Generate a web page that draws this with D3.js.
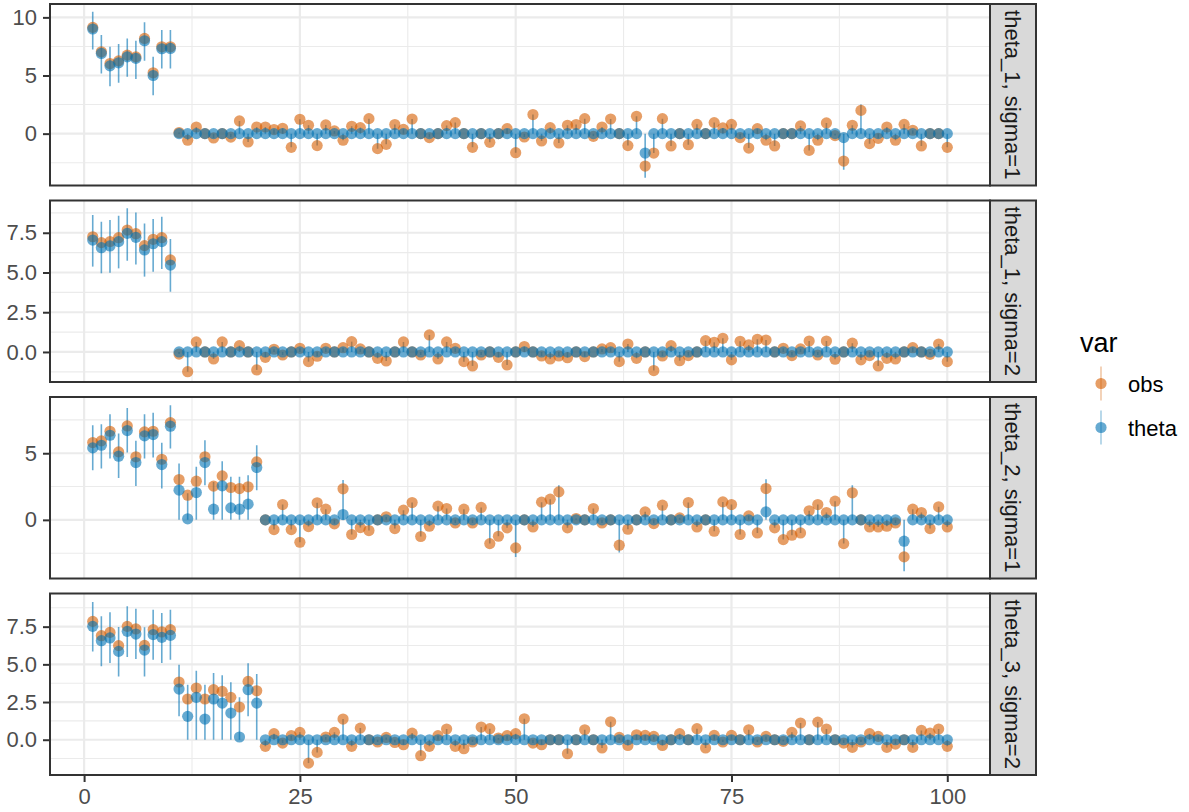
<!DOCTYPE html>
<html>
<head>
<meta charset="utf-8">
<script src="https://cdn.jsdelivr.net/npm/d3@7"></script>
<style>
  html, body { margin: 0; padding: 0; background: #fff; }
  svg { display: block; font-family: "Liberation Sans", Arial, sans-serif; }
</style>
</head>
<body>
<svg id="chart" width="1189" height="812"></svg>
<script>
// ---- data ----
const xTicks = [0, 25, 50, 75, 100];
const xMinor = [12.5, 37.5, 62.5, 87.5];
const series = ["obs", "theta"];
const stripLabels = ["theta_1, sigma=1", "theta_1, sigma=2", "theta_2, sigma=1", "theta_3, sigma=2"];

// panel 1: theta_1, sigma=1
const obs1 = [9.14, 7.04, 6.03, 6.26, 6.75, 6.6, 8.19, 5.23, 7.47, 7.47,
  0.1, -0.57, 0.57, 0, -0.37, 0, -0.3, 1.09, -0.72, 0.57,
  0.57, 0.35, 0.46, -1.18, 1.24, 0.72, -1.03, 0.75, 0.23, -0.57,
  0.63, 0.52, 1.29, -1.29, -0.92, 0.78, 0.37, 1.26, 0, -0.34,
  0, 0.69, 0.95, 0, -1.18, 0, -0.75, 0, 0.43, -1.64,
  -0.29, 1.64, -0.63, 0.52, -0.8, 0.72, 0.78, 1.29, -0.23, 0.57,
  1.26, 0, -1.03, 1.49, -2.79, -1.67, 1.29, -1.06, 0, -0.95,
  0.8, 0, 0.95, 0.49, 0.8, -0.34, -1.24, 0.43, -0.57, -1.06,
  0, 0, 0.66, -1.44, -0.57, 0.92, -0.17, -2.36, 0.72, 2.0,
  -0.86, -0.4, 0.57, -0.57, 0.8, 0.29, -1.06, 0, 0, -1.18];
const thetaHead1 = [9.0, 6.9, 5.83, 6.09, 6.6, 6.47, 7.99, 5.0, 7.3, 7.33];
const thetaSpikes1 = [[65, -1.67], [88, -0.34]];
const barLo1 = [7.24, 5.17, 4.08, 4.37, 4.89, 4.71, 6.26, 3.3, 5.6, 5.6];
const barHi1 = [10.49, 8.48, 7.47, 7.7, 8.19, 7.99, 9.57, 6.61, 8.91, 8.91];
const tails1 = [[65, -3.8], [88, -3.1], [90, 2.5]];

// panel 2: theta_1, sigma=2
const obs2 = [7.25, 6.88, 6.94, 7.19, 7.67, 7.44, 6.69, 7.09, 7.19, 5.79,
  -0.13, -1.24, 0.63, 0, -0.44, 0.63, 0, 0.4, 0, -1.13,
  -0.34, 0.17, -0.19, 0, 0.23, -0.61, -0.27, 0.23, 0, 0.27,
  0.65, 0.19, 0, -0.4, -0.57, 0, 0.63, 0, -0.19, 1.07,
  -0.44, 0.63, 0.23, -0.61, -0.88, -0.19, 0, -0.34, -0.82, 0,
  0.34, 0, -0.25, -0.44, -0.25, -0.36, 0, -0.29, 0, 0.19,
  0.27, -0.61, 0.5, -0.4, 0, -1.17, -0.25, 0.4, -0.55, -0.23,
  0, 0.71, 0.61, 0.86, -0.5, 0.67, 0.44, 0.8, 0.75, 0,
  0.23, -0.23, 0.19, 0.69, -0.19, 0.69, -0.46, 0, 0.55, -0.5,
  -0.23, -0.88, -0.4, -0.44, 0, 0.27, 0, -0.15, 0.5, -0.61];
const thetaHead2 = [7.04, 6.56, 6.67, 6.94, 7.46, 7.21, 6.42, 6.81, 6.94, 5.47];
const thetaSpikes2 = [];
const barLo2 = [5.37, 4.95, 4.99, 5.26, 5.74, 5.51, 4.74, 5.05, 5.22, 3.79];
const barHi2 = [8.62, 8.2, 8.3, 8.57, 9.04, 8.78, 8.09, 8.36, 8.51, 7.11];
const tails2 = [];

// panel 3: theta_2, sigma=1
const obs3 = [5.8, 5.93, 6.65, 5.1, 7.05, 4.73, 6.6, 6.65, 4.55, 7.3,
  3.03, 1.85, 2.9, 4.73, 2.53, 3.3, 2.43, 2.35, 2.48, 4.35,
  0, -0.73, 1.15, -0.73, -1.68, -0.5, 1.28, 0.8, -0.3, 2.33,
  -1.1, -0.58, -0.8, 0, 0.23, -0.65, 0.73, 1.3, -1.25, -0.48,
  1.03, 0.85, -0.23, 0.8, -0.23, 0.93, -1.78, -1.23, -0.6, -2.1,
  0, -0.53, 1.33, 1.55, 2.1, -0.6, 0.1, 0, 0.85, -0.23,
  0, -1.9, -0.7, 0, 0.6, -0.28, 1.1, 0, 0.15, 1.3,
  -0.53, 0, -0.85, 1.35, 1.15, -1.1, 0.3, -0.98, 2.35, -0.6,
  -1.48, -1.15, -0.98, 0.68, 1.15, 0.55, 1.4, -1.78, 2.03, 0,
  -0.53, -0.53, -0.48, -0.23, -2.78, 0.8, 0.55, -0.65, 0.98, -0.53];
const thetaHead3 = [5.4, 5.6, 6.35, 4.78, 6.7, 4.3, 6.3, 6.4, 4.15, 7.03,
  2.23, 0.08, 2.05, 4.3, 0.8, 2.55, 0.9, 0.8, 1.18, 3.93];
const thetaSpikes3 = [[30, 0.4], [79, 0.6], [95, -1.6]];
const barLo3 = [3.73, 3.85, 4.6, 3.15, 5.05, 2.55, 4.6, 4.68, 2.35, 5.35,
  0, 0, 0, 2.6, 0, 0, 0, 0, 0, 2.23];
const barHi3 = [7.1, 7.18, 7.93, 6.48, 8.4, 5.93, 7.93, 8.03, 5.78, 8.6,
  4.23, 2.0, 3.98, 5.98, 2.85, 4.4, 3.23, 3.23, 3.35, 5.6];
const tails3 = [[30, 3.0], [50, -2.78], [55, 2.6], [62, -2.45], [79, 3.05], [89, 2.6], [95, -3.85]];

// panel 4: theta_3, sigma=2
const obs4 = [7.85, 6.9, 7.12, 6.24, 7.52, 7.35, 6.26, 7.3, 7.15, 7.3,
  3.83, 2.7, 3.43, 2.7, 3.32, 3.21, 2.81, 2.17, 3.87, 3.25,
  -0.44, 0.4, -0.22, 0.27, 0.49, -1.55, -0.84, 0.18, 0.49, 1.37,
  -0.44, 0.77, 0, -0.15, 0.15, -0.18, -0.33, 0.44, -1.06, -0.44,
  0.27, 0.71, -0.44, -0.6, -0.15, 0.84, 0.73, 0.11, 0.27, 0.4,
  1.39, -0.22, -0.33, 0, 0, -0.93, 0, 0.66, 0, -0.55,
  1.19, 0.15, -0.38, 0.33, 0.29, 0.22, -0.38, 0, 0.4, 0,
  0.73, -0.55, 0.29, -0.15, 0.29, 0, 0.66, -0.15, 0.22, 0,
  -0.11, 0.49, 1.11, 0, 1.17, 0.71, 0, -0.22, -0.51, -0.15,
  0.4, 0.22, -0.51, -0.29, 0, -0.51, 0.62, 0.44, 0.71, -0.44];
const thetaHead4 = [7.52, 6.57, 6.75, 5.86, 7.19, 7.01, 5.95, 6.97, 6.79, 6.92,
  3.36, 1.55, 2.81, 1.37, 2.7, 2.43, 1.77, 0.18, 3.32, 2.43];
const thetaSpikes4 = [];
const barLo4 = [5.86, 4.87, 5.09, 4.2, 5.49, 5.35, 4.2, 5.31, 5.09, 5.31,
  1.55, 0, 0, 0, 0, 0, 0, 0, 1.55, 0];
const barHi4 = [9.14, 8.19, 8.45, 7.48, 8.85, 8.69, 7.46, 8.63, 8.41, 8.63,
  4.98, 3.65, 4.58, 3.65, 4.42, 4.27, 3.81, 2.81, 5.07, 4.36];
const tails4 = [];

// y ticks per panel
const yTicks1 = [0, 5, 10], yMinor1 = [-2.5, 2.5, 7.5];
const yTicks2 = [0, 2.5, 5, 7.5], yMinor2 = [-1.25, 1.25, 3.75, 6.25, 8.75];
const yTicks3 = [0, 5], yMinor3 = [-2.5, 2.5, 7.5];
const yTicks4 = [0, 2.5, 5, 7.5], yMinor4 = [-1.25, 1.25, 3.75, 6.25, 8.75];

// ---- layout ----
const colors = { obs: "#D55E00", theta: "#0072B2" };
const alpha = 0.6;
const left = 50, right = 990, stripW = 46;
const panelTops = [4, 200.5, 397, 593.5];
const panelH = 181.5;

function buildRows(obs, thetaHead, spikes, lo, hi, tails) {
  const spikeMap = new Map(spikes);
  const tailMap = new Map(tails);
  return obs.map((o, k) => {
    const i = k + 1;
    const th = k < thetaHead.length ? thetaHead[k] : (spikeMap.get(i) || 0);
    let blo, bhi;
    if (k < lo.length) { blo = lo[k]; bhi = hi[k]; }
    else {
      const end = tailMap.has(i) ? tailMap.get(i) : o;
      blo = Math.min(0, end); bhi = Math.max(0, end);
    }
    return { i, obs: o, theta: th, lo: blo, hi: bhi };
  });
}

const panels = [
  { rows: buildRows(obs1, thetaHead1, thetaSpikes1, barLo1, barHi1, tails1), domain: [-4.46, 11.15], ticks: yTicks1, minor: yMinor1, fmt: d3.format("d") },
  { rows: buildRows(obs2, thetaHead2, thetaSpikes2, barLo2, barHi2, tails2), domain: [-1.89, 9.53], ticks: yTicks2, minor: yMinor2, fmt: d3.format(".1f") },
  { rows: buildRows(obs3, thetaHead3, thetaSpikes3, barLo3, barHi3, tails3), domain: [-4.4, 9.22], ticks: yTicks3, minor: yMinor3, fmt: d3.format("d") },
  { rows: buildRows(obs4, thetaHead4, thetaSpikes4, barLo4, barHi4, tails4), domain: [-2.34, 9.7], ticks: yTicks4, minor: yMinor4, fmt: d3.format(".1f") }
];

const svg = d3.select("#chart");
const x = d3.scaleLinear().domain([-3.95, 104.95]).range([left, right]);

panels.forEach((p, pi) => {
  const top = panelTops[pi];
  const y = d3.scaleLinear().domain(p.domain).range([top + panelH, top]);
  const g = svg.append("g");

  // background grid
  const clipId = "clip" + pi;
  svg.append("clipPath").attr("id", clipId)
    .append("rect").attr("x", left).attr("y", top).attr("width", right - left).attr("height", panelH);
  const grid = g.append("g").attr("clip-path", `url(#${clipId})`);
  grid.selectAll(".ymin").data(p.minor).join("line")
    .attr("x1", left).attr("x2", right).attr("y1", d => y(d)).attr("y2", d => y(d))
    .attr("stroke", "#ebebeb").attr("stroke-width", 1.1);
  grid.selectAll(".xmin").data(xMinor).join("line")
    .attr("y1", top).attr("y2", top + panelH).attr("x1", d => x(d)).attr("x2", d => x(d))
    .attr("stroke", "#ebebeb").attr("stroke-width", 1.1);
  grid.selectAll(".ymaj").data(p.ticks).join("line")
    .attr("x1", left).attr("x2", right).attr("y1", d => y(d)).attr("y2", d => y(d))
    .attr("stroke", "#ebebeb").attr("stroke-width", 2.2);
  grid.selectAll(".xmaj").data(xTicks).join("line")
    .attr("y1", top).attr("y2", top + panelH).attr("x1", d => x(d)).attr("x2", d => x(d))
    .attr("stroke", "#ebebeb").attr("stroke-width", 2.2);

  const marks = g.append("g").attr("clip-path", `url(#${clipId})`);
  // ranges (theta intervals)
  marks.selectAll(".bar").data(p.rows).join("line")
    .attr("x1", d => x(d.i)).attr("x2", d => x(d.i))
    .attr("y1", d => y(d.lo)).attr("y2", d => y(d.hi))
    .attr("stroke", colors.theta).attr("stroke-opacity", alpha).attr("stroke-width", 1.6);
  // obs then theta points
  series.forEach(s => {
    marks.selectAll(".pt-" + s).data(p.rows).join("circle")
      .attr("cx", d => x(d.i)).attr("cy", d => y(d[s]))
      .attr("r", 5.6)
      .attr("fill", colors[s]).attr("fill-opacity", alpha);
  });

  // panel border
  g.append("rect").attr("x", left).attr("y", top).attr("width", right - left).attr("height", panelH)
    .attr("fill", "none").attr("stroke", "#333333").attr("stroke-width", 2);

  // y axis
  const yAxis = g.append("g").attr("transform", `translate(${left},0)`)
    .call(d3.axisLeft(y).tickValues(p.ticks).tickFormat(p.fmt).tickSize(7).tickPadding(6));
  yAxis.select(".domain").remove();
  yAxis.selectAll("line").attr("stroke", "#333333").attr("stroke-width", 2);
  yAxis.selectAll("text").attr("fill", "#4d4d4d").style("font-size", "22px")
    .style("font-family", '"Liberation Sans", Arial, sans-serif');

  // strip
  g.append("rect").attr("x", right).attr("y", top).attr("width", stripW).attr("height", panelH)
    .attr("fill", "#d9d9d9").attr("stroke", "#333333").attr("stroke-width", 2);
  g.append("text")
    .attr("transform", `translate(${right + stripW / 2},${top + panelH / 2}) rotate(90)`)
    .attr("text-anchor", "middle").attr("dy", "0.35em")
    .attr("fill", "#1a1a1a").style("font-size", "22px")
    .text(stripLabels[pi]);

  // x axis on the last panel
  if (pi === panels.length - 1) {
    const xAxis = g.append("g").attr("transform", `translate(0,${top + panelH})`)
      .call(d3.axisBottom(x).tickValues(xTicks).tickSize(7).tickPadding(6.5));
    xAxis.select(".domain").remove();
    xAxis.selectAll("line").attr("stroke", "#333333").attr("stroke-width", 2);
    xAxis.selectAll("text").attr("fill", "#4d4d4d").style("font-size", "22px")
      .style("font-family", '"Liberation Sans", Arial, sans-serif');
  }
});

// legend
const legend = svg.append("g").attr("transform", "translate(1080,0)");
legend.append("text").attr("x", 0).attr("y", 352).style("font-size", "27px").attr("fill", "#000").text("var");
const keyY = [383.5, 427.5];
series.forEach((s, k) => {
  const ky = keyY[k];
  legend.append("line").attr("x1", 21).attr("x2", 21).attr("y1", ky - 17).attr("y2", ky + 17)
    .attr("stroke", colors[s]).attr("stroke-opacity", 0.35).attr("stroke-width", 1.6);
  legend.append("circle").attr("cx", 21).attr("cy", ky).attr("r", 5.6)
    .attr("fill", colors[s]).attr("fill-opacity", alpha);
  legend.append("text").attr("x", 48).attr("y", ky + 8).style("font-size", "22px").attr("fill", "#000").text(s);
});
</script>
</body>
</html>
